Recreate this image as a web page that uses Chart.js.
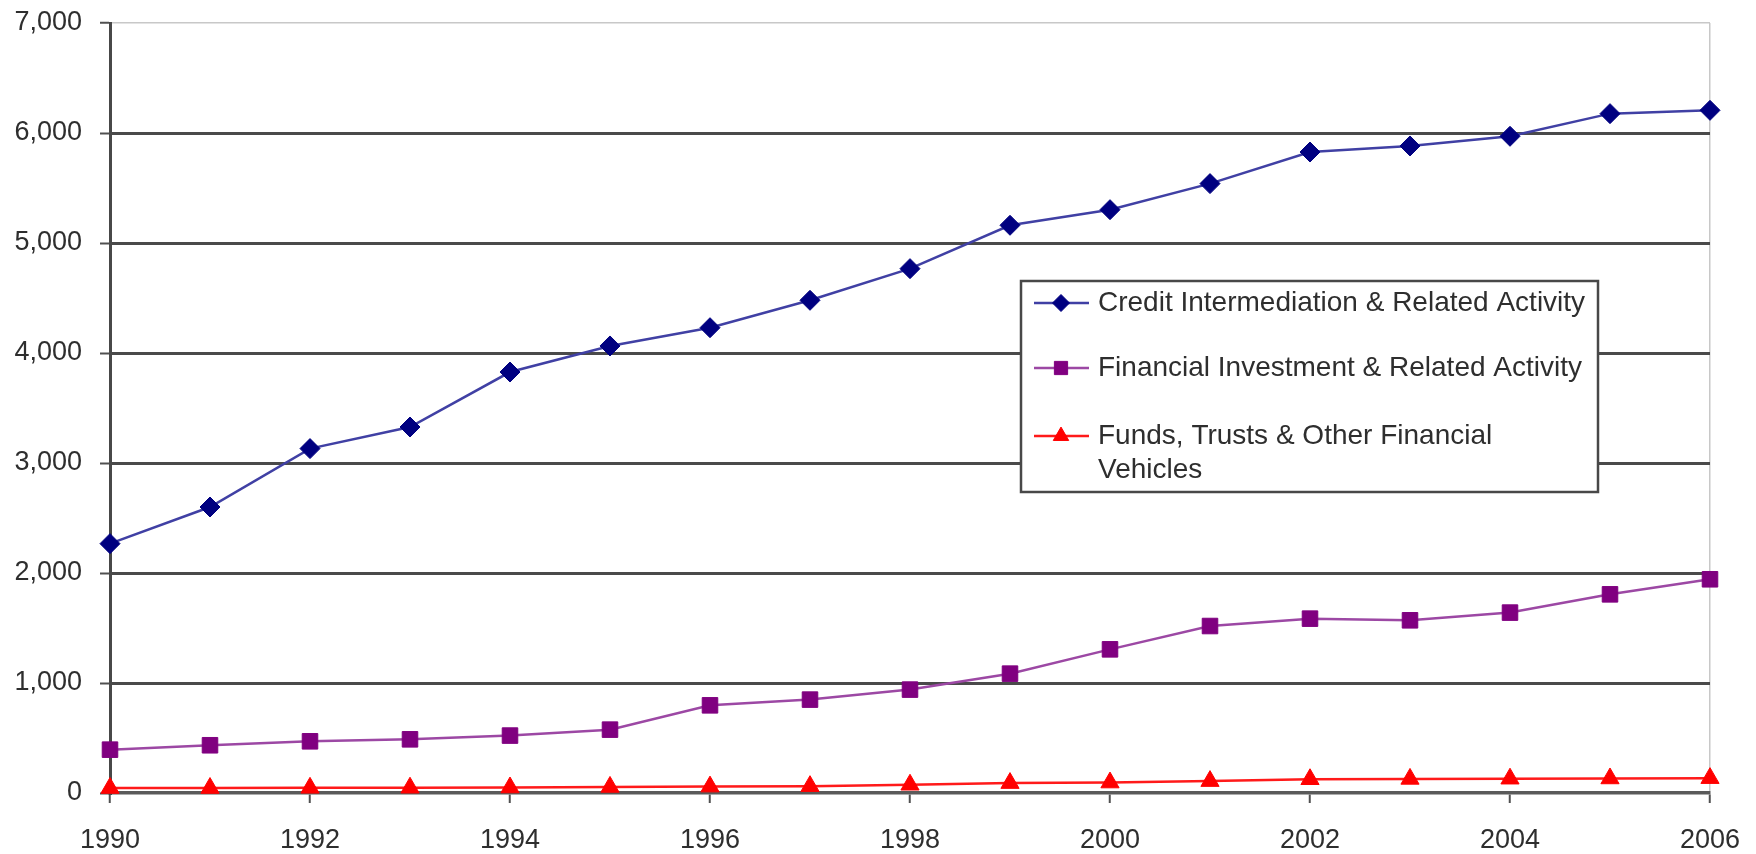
<!DOCTYPE html>
<html>
<head>
<meta charset="utf-8">
<script src="https://cdn.jsdelivr.net/npm/chart.js@4/dist/chart.umd.min.js"></script>
<style>
  html, body { margin: 0; padding: 0; background: #ffffff; }
  #wrap { position: relative; width: 1756px; height: 854px; }
</style>
</head>
<body>
<div id="wrap"><canvas id="c" width="1756" height="854"></canvas></div>
<script>
const years = [1990,1991,1992,1993,1994,1995,1996,1997,1998,1999,2000,2001,2002,2003,2004,2005,2006];
const creditIntermediation = [2267,2600,3131,3327,3827,4064,4230,4479,4767,5161,5303,5540,5827,5882,5970,6176,6206];
const financialInvestment = [394,434,470,488,522,576,797,849,940,1085,1306,1518,1585,1570,1640,1806,1943];
const fundsTrusts = [45,45,47,48,50,55,58,62,75,90,95,108,125,128,130,132,135];
const seriesNames = [
  ["Credit Intermediation & Related Activity"],
  ["Financial Investment & Related Activity"],
  ["Funds, Trusts & Other Financial", "Vehicles"]
];
const yTicks = [0,1000,2000,3000,4000,5000,6000,7000];
const xTickYears = [1990,1992,1994,1996,1998,2000,2002,2004,2006];

const FONT = '"Liberation Sans", Arial, sans-serif';
const toPts = arr => years.map((yr, i) => ({ x: yr, y: arr[i] }));

const styles = [
  { line: '#4040a4', marker: '#000080', pointStyle: 'rectRot', radius: 10 },
  { line: '#9c48a4', marker: '#800080', pointStyle: 'rect', radius: 11 },
  { line: '#ff1a1a', marker: '#ff0000', pointStyle: 'triangle', radius: 10.5 }
];
const seriesData = [creditIntermediation, financialInvestment, fundsTrusts];

const legendPlugin = {
  id: 'boxLegend',
  afterDraw(chart) {
    const ctx = chart.ctx;
    const bx = 1021, by = 281, bw = 577, bh = 211;
    ctx.save();
    ctx.fillStyle = '#ffffff';
    ctx.fillRect(bx, by, bw, bh);
    ctx.strokeStyle = '#484848';
    ctx.lineWidth = 2.5;
    ctx.strokeRect(bx, by, bw, bh);
    const rows = [303, 368, 436];
    ctx.font = '28px ' + FONT;
    ctx.textBaseline = 'middle';
    ctx.textAlign = 'left';
    seriesNames.forEach((lines, i) => {
      const y = rows[i];
      const st = styles[i];
      ctx.strokeStyle = st.line;
      ctx.lineWidth = 2.5;
      ctx.beginPath();
      ctx.moveTo(1034, y);
      ctx.lineTo(1089, y);
      ctx.stroke();
      ctx.fillStyle = st.marker;
      ctx.strokeStyle = st.marker;
      ctx.lineWidth = 1;
      Chart.helpers.drawPoint(ctx, { pointStyle: st.pointStyle, radius: st.radius * 0.85, rotation: 0, borderWidth: 1 }, 1061, y);
      ctx.fillStyle = '#2e2e2e';
      lines.forEach((t, j) => ctx.fillText(t, 1098, y + j * 34));
    });
    ctx.restore();
  }
};

new Chart(document.getElementById('c'), {
  type: 'line',
  data: {
    datasets: seriesData.map((arr, i) => ({
      label: seriesNames[i].join(' '),
      data: toPts(arr),
      borderColor: styles[i].line,
      borderWidth: 2.5,
      pointStyle: styles[i].pointStyle,
      pointRadius: styles[i].radius,
      pointBackgroundColor: styles[i].marker,
      pointBorderColor: styles[i].marker,
      pointBorderWidth: 1,
      tension: 0,
      fill: false
    }))
  },
  plugins: [legendPlugin],
  options: {
    responsive: false,
    animation: false,
    clip: false,
    layout: { padding: { left: 0, right: 46, top: 23, bottom: 0 } },
    plugins: { legend: { display: false }, tooltip: { enabled: false } },
    scales: {
      x: {
        type: 'linear',
        min: 1990, max: 2006,
        afterBuildTicks: s => { s.ticks = xTickYears.map(v => ({ value: v })); },
        afterFit: s => { s.height = 61; s.paddingLeft = 0; s.paddingRight = 0; },
        ticks: {
          callback: v => String(v),
          font: { family: FONT, size: 27 },
          color: '#2e2e2e',
          padding: 21,
          maxRotation: 0,
          autoSkip: false
        },
        grid: {
          drawOnChartArea: true,
          color: c => (c.tick && c.tick.value === 2006) ? '#c8c8c8' : 'rgba(0,0,0,0)',
          lineWidth: 1.5,
          tickColor: '#505050',
          tickLength: 10,
          tickWidth: 2
        },
        border: { display: true, color: '#5a5a5a', width: 3.5 }
      },
      y: {
        min: 0, max: 7000,
        afterBuildTicks: s => { s.ticks = yTicks.map(v => ({ value: v })); },
        afterFit: s => { s.width = 110; s.paddingTop = 0; s.paddingBottom = 0; },
        ticks: {
          callback: v => v.toLocaleString('en-US'),
          font: { family: FONT, size: 27 },
          color: '#2e2e2e',
          padding: 18
        },
        grid: {
          color: c => (c.tick && c.tick.value === 7000) ? '#c8c8c8' : (c.tick && c.tick.value === 0 ? 'rgba(0,0,0,0)' : '#4a4a4a'),
          lineWidth: c => (c.tick && c.tick.value === 7000) ? 1.5 : 3,
          tickColor: '#505050',
          tickLength: 10,
          tickWidth: 2
        },
        border: { display: true, color: '#484848', width: 3 }
      }
    }
  }
});
</script>
</body>
</html>
